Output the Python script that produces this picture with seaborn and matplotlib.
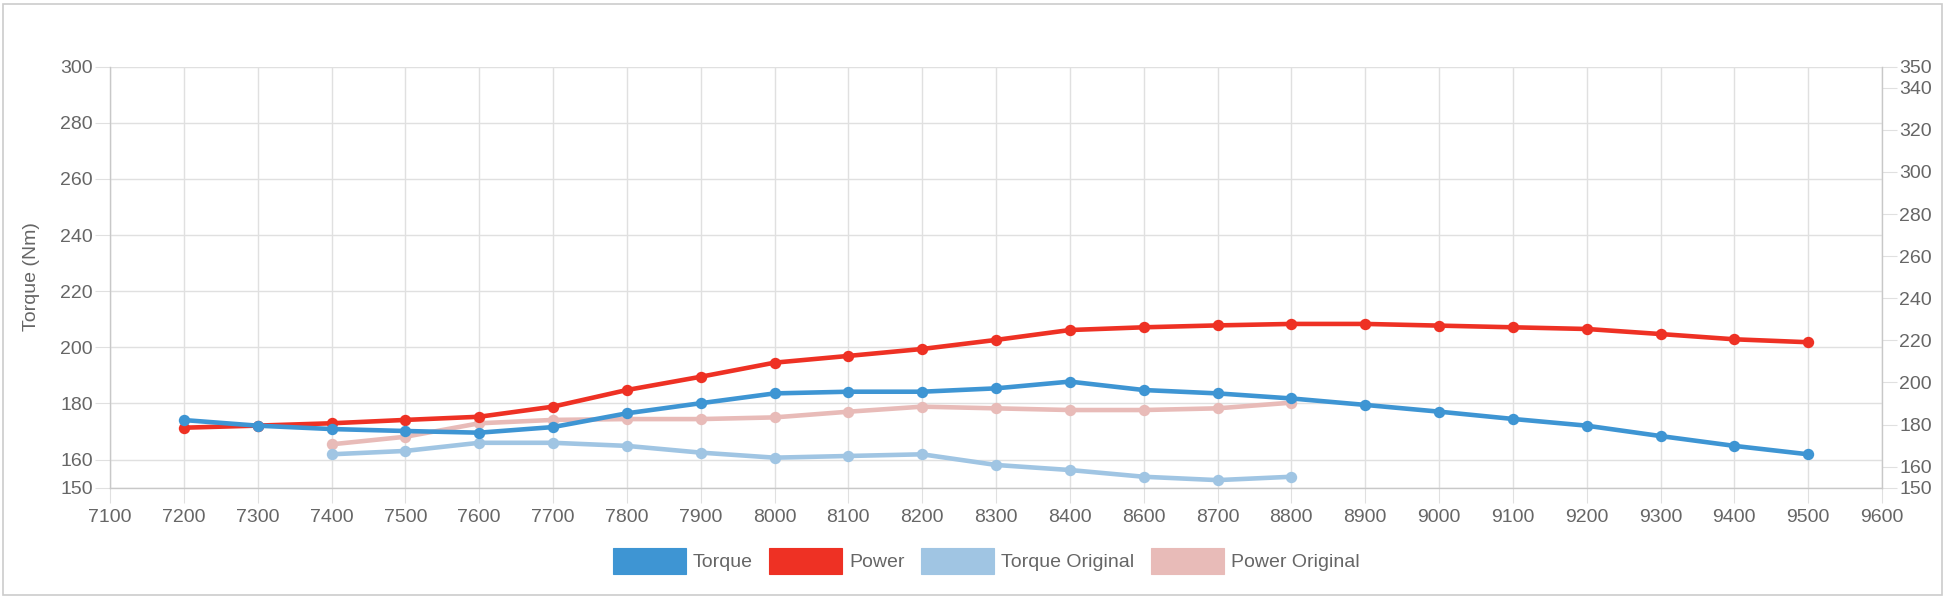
import matplotlib
matplotlib.use("Agg")
import matplotlib.pyplot as plt
from matplotlib.patches import Patch, Rectangle
import seaborn as sns
import pandas as pd

# ---------------- data ----------------
x_labels = ["7100", "7200", "7300", "7400", "7500", "7600", "7700", "7800",
            "7900", "8000", "8100", "8200", "8300", "8400", "8600", "8700",
            "8800", "8900", "9000", "9100", "9200", "9300", "9400", "9500",
            "9600"]

rpm = [7200, 7300, 7400, 7500, 7600, 7700, 7800, 7900, 8000, 8100, 8200,
       8300, 8400, 8600, 8700, 8800, 8900, 9000, 9100, 9200, 9300, 9400, 9500]
torque = [174.1, 172.1, 170.9, 170.2, 169.6, 171.6, 176.5, 180.1, 183.6,
          184.2, 184.2, 185.4, 187.8, 184.8, 183.6, 181.8, 179.5, 177.1,
          174.5, 172.1, 168.4, 164.9, 161.9]
power = [178.5, 179.5, 180.6, 182.2, 183.7, 188.5, 196.4, 202.7, 209.4,
         212.6, 215.9, 220.2, 224.9, 226.2, 227.1, 227.8, 227.8, 227.0,
         226.2, 225.4, 223.0, 220.5, 219.1]

rpm_orig = [7400, 7500, 7600, 7700, 7800, 7900, 8000, 8100, 8200, 8300,
            8400, 8600, 8700, 8800]
torque_orig = [161.9, 163.1, 166.0, 166.0, 164.9, 162.5, 160.7, 161.3,
               161.9, 158.1, 156.3, 153.9, 152.7, 153.9]
power_orig = [170.6, 174.2, 180.6, 182.2, 182.6, 182.6, 183.4, 186.1,
              188.5, 187.7, 186.9, 186.9, 187.7, 190.4]

left_ticks = [150, 160, 180, 200, 220, 240, 260, 280, 300]
right_ticks = [150, 160, 180, 200, 220, 240, 260, 280, 300, 320, 340, 350]

series_names = ["Torque", "Power", "Torque Original", "Power Original"]
colors = ["#3e95d3", "#ee3124", "#a0c5e3", "#e8bbb8"]

# ---------------- style ----------------
sns.set_theme(style="white")
plt.rcParams["font.family"] = ["Liberation Sans", "DejaVu Sans"]
TXT = "#666666"
GRID = "#e0e0e0"
SPINE = "#c8c8c8"
FS = 14

df_main = pd.DataFrame({
    "pos": [x_labels.index(str(r)) for r in rpm],
    "torque": torque, "power": power})
df_orig = pd.DataFrame({
    "pos": [x_labels.index(str(r)) for r in rpm_orig],
    "torque": torque_orig, "power": power_orig})

fig = plt.figure(figsize=(19.46, 6.04), dpi=100)
pos = [110 / 1946, 1 - 487.7 / 604, (1882 - 110) / 1946, (487.7 - 66.7) / 604]

# grid / left axis
axg = fig.add_axes(pos)
axg.set_xlim(0, len(x_labels) - 1)
axg.set_ylim(150, 300)
axg.set_xticks(range(len(x_labels)))
axg.set_xticklabels(x_labels)
axg.set_yticks(left_ticks)
axg.grid(True, color=GRID, linewidth=1.0)
axg.tick_params(axis="both", which="both", length=11, width=0.8,
                color=GRID, labelcolor=TXT, labelsize=FS)
axg.tick_params(axis="x", pad=4, bottom=True)
axg.tick_params(axis="y", pad=1.5, left=True)
for side in ["top", "right"]:
    axg.spines[side].set_visible(False)
for side in ["left", "bottom"]:
    axg.spines[side].set_color(SPINE)
    axg.spines[side].set_linewidth(1.0)

# power axis (right)
axp = axg.twinx()
axp.set_ylim(150, 350)
axp.set_yticks(right_ticks)
axp.patch.set_visible(False)
axp.tick_params(axis="y", length=11, width=0.8, color=GRID,
                labelcolor=TXT, labelsize=FS, pad=1.5, right=True)
for side in ["top", "left", "bottom"]:
    axp.spines[side].set_visible(False)
axp.spines["right"].set_color(SPINE)
axp.spines["right"].set_linewidth(1.0)
axp.grid(False)

# torque axis (on top)
axt = axg.twinx()
axt.set_ylim(150, 300)
axt.patch.set_visible(False)
axt.set_yticks([])
for side in axt.spines:
    axt.spines[side].set_visible(False)
axt.grid(False)

line_kw = dict(marker="o", markersize=8.2, markeredgewidth=0,
               linewidth=3.3, legend=False, sort=False)

sns.lineplot(data=df_orig, x="pos", y="power", ax=axp, color=colors[3], **line_kw)
sns.lineplot(data=df_main, x="pos", y="power", ax=axp, color=colors[1], **line_kw)
sns.lineplot(data=df_orig, x="pos", y="torque", ax=axt, color=colors[2], **line_kw)
sns.lineplot(data=df_main, x="pos", y="torque", ax=axt, color=colors[0], **line_kw)

for a in (axg, axp, axt):
    a.set_xlabel("")
    a.set_ylabel("")
axt.set_xlim(0, len(x_labels) - 1)

fig.text(32 / 1946, 1 - 277 / 604, "Torque (Nm)", rotation=90,
         ha="center", va="center", color=TXT, fontsize=FS)

handles = [Patch(facecolor=c, edgecolor=c, linewidth=0.8) for c in colors]
fig.legend(handles, series_names, loc="center", ncol=4,
           bbox_to_anchor=(986 / 1946, 1 - 561 / 604), frameon=False,
           fontsize=FS, labelcolor=TXT, handlelength=3.75, handleheight=1.62,
           handletextpad=0.36, columnspacing=0.85, borderpad=0)

fig.patches.append(Rectangle((3 / 1946, 1 - 595 / 604), (1942 - 3) / 1946,
                             (595 - 4) / 604, transform=fig.transFigure,
                             fill=False, edgecolor="#cccccc", linewidth=1.2))

fig.savefig("out.png", dpi=100, facecolor="white")
